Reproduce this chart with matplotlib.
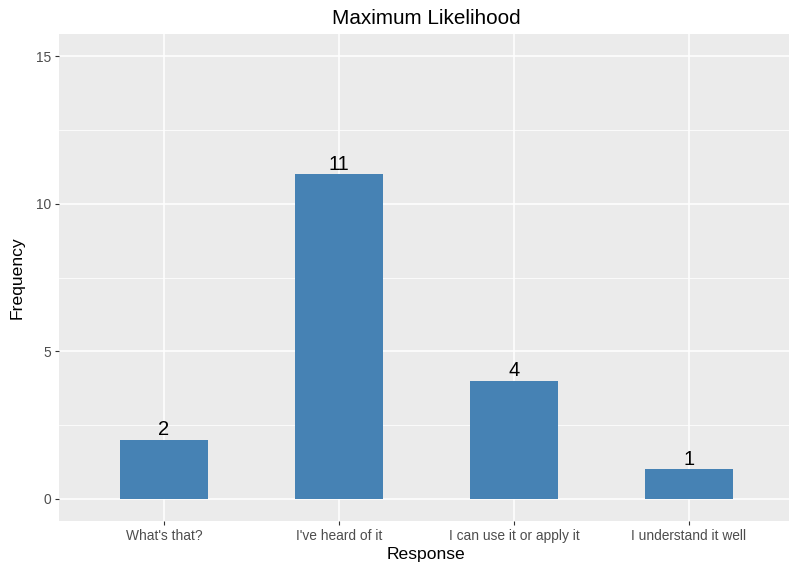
import matplotlib.pyplot as plt

plt.rcParams['font.family'] = ['Liberation Sans', 'DejaVu Sans']

categories = ["What's that?", "I've heard of it", "I can use it or apply it", "I understand it well"]
counts = [2, 11, 4, 1]
yticks = [0, 5, 10, 15]
minor_ticks = [2.5, 7.5, 12.5]

fig = plt.figure(figsize=(7.89, 5.64), dpi=100)
# panel runs a little past the right edge, as in the reference
ax = fig.add_axes([59 / 789, 1 - 521 / 564, 735 / 789, 487 / 564])
ax.set_facecolor('#EBEBEB')

x = list(range(len(categories)))
ax.bar(x, counts, width=0.5, color='#4682B4', zorder=3)
for xi, c in zip(x, counts):
    ax.text(xi, c + 0.02, str(c), ha='center', va='bottom', fontsize=14.5, color='black', zorder=4)

ax.set_xlim(-0.6, len(categories) - 0.4)
ax.set_ylim(-0.75, 15.75)
ax.set_xticks(x)
ax.set_xticklabels(categories)
ax.set_yticks(yticks)
ax.set_yticks(minor_ticks, minor=True)

ax.grid(True, which='major', color='white', linewidth=1.1, zorder=1)
ax.grid(True, which='minor', axis='y', color='white', linewidth=0.55, zorder=1)
for s in ax.spines.values():
    s.set_visible(False)
ax.tick_params(which='major', length=3, width=0.8, color='#333333', labelsize=9.9, labelcolor='#4D4D4D', pad=2.5)
ax.tick_params(which='minor', length=0)

ax.set_xlabel('Response', fontsize=12.6, labelpad=3)
ax.set_ylabel('Frequency', fontsize=12.6, labelpad=8)
ax.set_title('Maximum Likelihood', fontsize=14.9, pad=7.5)

plt.savefig('out.png', dpi=100)
plt.close()
